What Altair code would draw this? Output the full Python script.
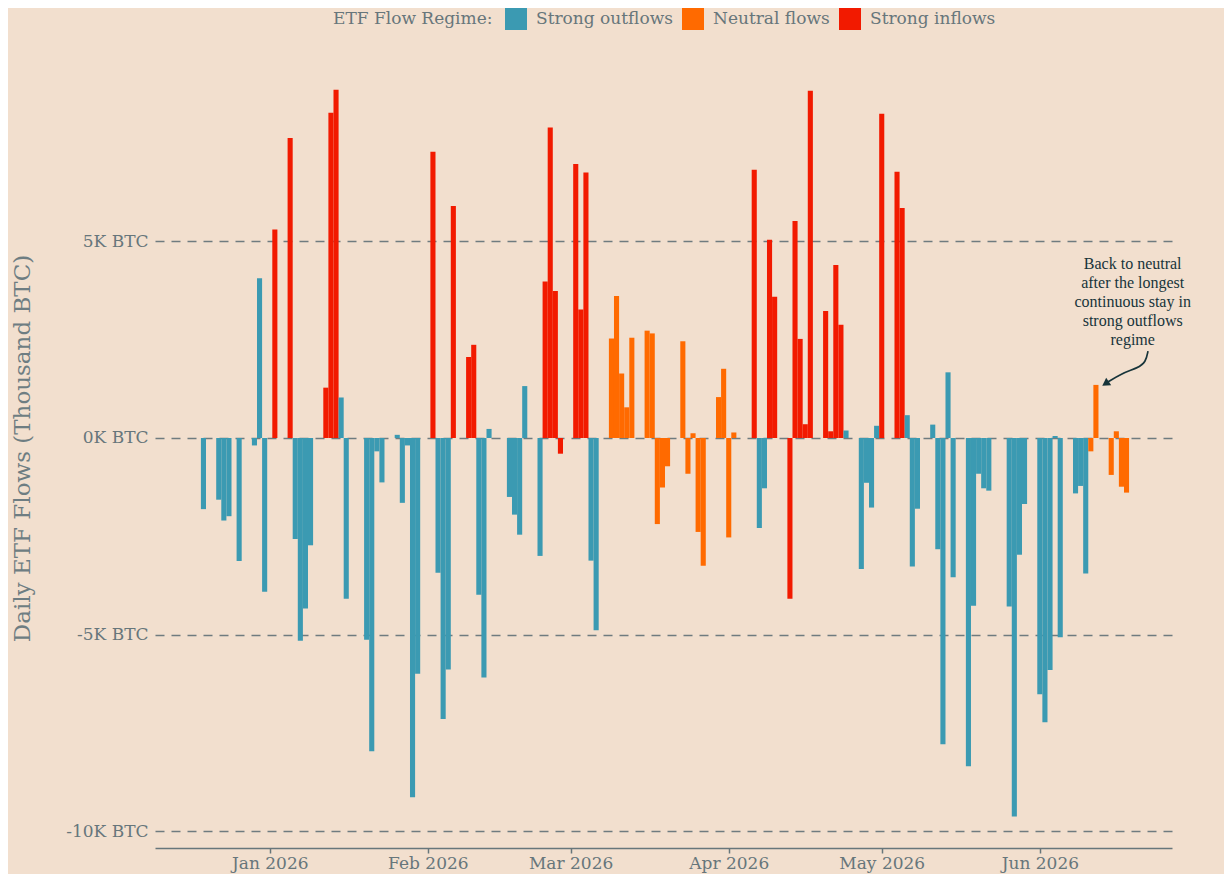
import altair as alt
import pandas as pd

# Trading days (US) per month
dec_days = [19, 22, 23, 24, 26, 29, 30, 31]
jan_days = [2, 5, 6, 7, 8, 9, 12, 13, 14, 15, 16, 20, 21, 22, 23, 26, 27, 28, 29, 30]
feb_days = [2, 3, 4, 5, 6, 9, 10, 11, 12, 13, 17, 18, 19, 20, 23, 24, 25, 26, 27]
mar_days = [2, 3, 4, 5, 6, 9, 10, 11, 12, 13, 16, 17, 18, 19, 20, 23, 24, 25, 26, 27, 30, 31]
apr_days = [1, 2, 6, 7, 8, 9, 10, 13, 14, 15, 16, 17, 20, 21, 22, 23, 24, 27, 28, 29, 30]
may_days = [1, 4, 5, 6, 7, 8, 11, 12, 13, 14, 15, 18, 19, 20, 21, 22, 26, 27, 28, 29]
jun_days = [1, 2, 3, 4, 5, 8, 9, 10, 11, 12, 15, 16, 17, 18]

# Daily ETF flows (thousand BTC)
dec_flows = [-1.81, -1.57, -2.10, -1.99, -3.13, -0.19, 4.06, -3.91]
jan_flows = [5.30, 7.63, -2.57, -5.16, -4.34, -2.73, 1.28, 8.27, 8.86, 1.03,
             -4.09, -5.13, -7.97, -0.34, -1.13, 0.08, -1.65, -0.19, -9.14, -6.00]
feb_flows = [7.28, -3.43, -7.15, -5.89, 5.90, 2.06, 2.37, -3.99, -6.09, 0.23,
             -1.50, -1.95, -2.46, 1.32, -3.00, 3.98, 7.90, 3.74, -0.40]
mar_flows = [6.97, 3.27, 6.75, -3.12, -4.89, 2.53, 3.61, 1.64, 0.78, 2.55, 2.73,
             2.66, -2.19, -1.26, -0.72, 2.46, -0.91, 0.12, -2.39, -3.25, 1.04, 1.76]
apr_flows = [-2.53, 0.14, 6.82, -2.29, -1.28, 5.04, 3.59, -4.09, 5.52, 2.52, 0.35,
             8.83, 3.23, 0.17, 4.40, 2.88, 0.19, -3.33, -1.14, -1.77, 0.31]
may_flows = [8.25, 6.77, 5.85, 0.58, -3.27, -1.80, 0.34, -2.83, -7.79, 1.67,
             -3.54, -8.35, -4.27, -0.91, -1.28, -1.34, -4.29, -9.63, -2.97, -1.68]
jun_flows = [-6.52, -7.23, -5.90, 0.05, -5.07, -1.41, -1.22, -3.45, -0.34, 1.35,
             -0.94, 0.17, -1.24, -1.39]

# Regime per day: S = Strong outflows, N = Neutral flows, I = Strong inflows
dec_reg = list("SSSSSSSS")
jan_reg = list("IISSSSIIISSSSSSSSSSS")
feb_reg = list("ISSSIIISSSSSSSSIIII")
mar_reg = list("IIISSNNNNNNNNNNNNNNNNN")
apr_reg = list("NNISSIIIIIIIIIIISSSSS")
may_reg = list("IIISSSSSSSSSSSSSSSSS")
jun_reg = list("SSSSSSSSNNNNNN")

regime_names = {"S": "Strong outflows", "N": "Neutral flows", "I": "Strong inflows"}
regime_order = ["Strong outflows", "Neutral flows", "Strong inflows"]
regime_colors = ["#3B9AB2", "#FF6A00", "#F21A00"]

annotation_lines = ["Back to neutral", "after the longest", "continuous stay in",
                    "strong outflows", "regime"]

dates = ([f"2025-12-{d:02d}" for d in dec_days] + [f"2026-01-{d:02d}" for d in jan_days] +
         [f"2026-02-{d:02d}" for d in feb_days] + [f"2026-03-{d:02d}" for d in mar_days] +
         [f"2026-04-{d:02d}" for d in apr_days] + [f"2026-05-{d:02d}" for d in may_days] +
         [f"2026-06-{d:02d}" for d in jun_days])
flows = dec_flows + jan_flows + feb_flows + mar_flows + apr_flows + may_flows + jun_flows
regs = dec_reg + jan_reg + feb_reg + mar_reg + apr_reg + may_reg + jun_reg

df = pd.DataFrame({"date": pd.to_datetime(dates), "flow": flows,
                   "regime": [regime_names[r] for r in regs]})
df["start"] = (df["date"] - pd.Timedelta(hours=12)).dt.strftime("%Y-%m-%dT%H:%M:%S")
df["end"] = (df["date"] + pd.Timedelta(hours=12)).dt.strftime("%Y-%m-%dT%H:%M:%S")
df["date"] = df["date"].dt.strftime("%Y-%m-%dT%H:%M:%S")

FONT = "DejaVu Serif"
GREY = "#67767b"
DARK = "#17343a"

xscale = alt.Scale(domain=[alt.DateTime(year=2025, month=12, date=9, hours=12),
                           alt.DateTime(year=2026, month=6, date=26, hours=22)])
yscale = alt.Scale(domain=[-10.43, 9.92], nice=False, zero=False)

bars = alt.Chart(df).mark_bar(strokeWidth=0).encode(
    x=alt.X("start:T", scale=xscale, title=None,
            axis=alt.Axis(format="%b %Y", tickCount={"interval": "month", "step": 1},
                          grid=False, domainColor=GREY, domainWidth=1.5, tickColor=GREY,
                          tickWidth=1.5, tickSize=5, labelPadding=2, labelColor=GREY,
                          labelFontSize=17, labelFont=FONT)),
    x2="end:T",
    y=alt.Y("flow:Q", scale=yscale, title="Daily ETF Flows (Thousand BTC)",
            axis=alt.Axis(values=[-10, -5, 0, 5], labelExpr="datum.value + 'K BTC'",
                          domain=False, ticks=False, grid=True, gridColor="#6f7b7f",
                          gridDash=[9, 7], gridWidth=1.4, labelPadding=7,
                          labelColor=GREY, labelFontSize=17, labelFont=FONT,
                          titleColor="#6e7d82", titleFontSize=23, titleFont=FONT,
                          titleFontWeight="normal", titlePadding=31)),
    y2=alt.datum(0),
    color=alt.Color("regime:N", scale=alt.Scale(domain=regime_order, range=regime_colors),
                    title="ETF Flow Regime:",
                    legend=alt.Legend(orient="none", legendX=178, legendY=-40,
                                      direction="horizontal", titleOrient="left",
                                      symbolType="square", symbolSize=484,
                                      symbolStrokeWidth=0, symbolOpacity=1,
                                      titleFont=FONT, titleFontSize=17,
                                      titleFontWeight="normal", titleColor=GREY,
                                      titlePadding=12, labelFont=FONT, labelFontSize=17,
                                      labelColor=GREY, labelOffset=9, columnPadding=9,
                                      padding=0)),
)

ann_df = pd.DataFrame({"x": ["2026-06-19T05:00:00"], "y": [4.62],
                       "text": ["\n".join(annotation_lines)]})
ann = alt.Chart(ann_df).mark_text(font="Liberation Serif", fontSize=16, color=DARK,
                                  baseline="top", align="center", lineBreak="\n",
                                  lineHeight=19).encode(
    x=alt.X("x:T", scale=xscale), y=alt.Y("y:Q", scale=yscale), text="text:N")

arrow_df = pd.DataFrame({
    "x": ["2026-06-22T05:00:00", "2026-06-21T19:00:00", "2026-06-20T05:00:00",
          "2026-06-17T02:00:00", "2026-06-14T02:00:00"],
    "y": [2.21, 1.93, 1.78, 1.65, 1.40],
    "o": [0, 1, 2, 3, 4]})
arrow_line = alt.Chart(arrow_df).mark_line(color=DARK, strokeWidth=1.7,
                                           interpolate="basis").encode(
    x=alt.X("x:T", scale=xscale), y=alt.Y("y:Q", scale=yscale), order="o:Q")
head_df = arrow_df.tail(1)
arrow_head = alt.Chart(head_df).mark_point(shape="triangle", angle=236, size=80,
                                           filled=True, color=DARK, opacity=1).encode(
    x=alt.X("x:T", scale=xscale), y=alt.Y("y:Q", scale=yscale))

chart = alt.layer(bars, arrow_line, arrow_head, ann).properties(
    width=1017, height=800, background="#f2dfce",
    autosize=alt.AutoSizeParams(type="none"),
    padding={"left": 147, "top": 40, "right": 52, "bottom": 26},
).configure_view(stroke=None)

chart.save("out.html", embed_options={"renderer": "svg", "actions": False})
